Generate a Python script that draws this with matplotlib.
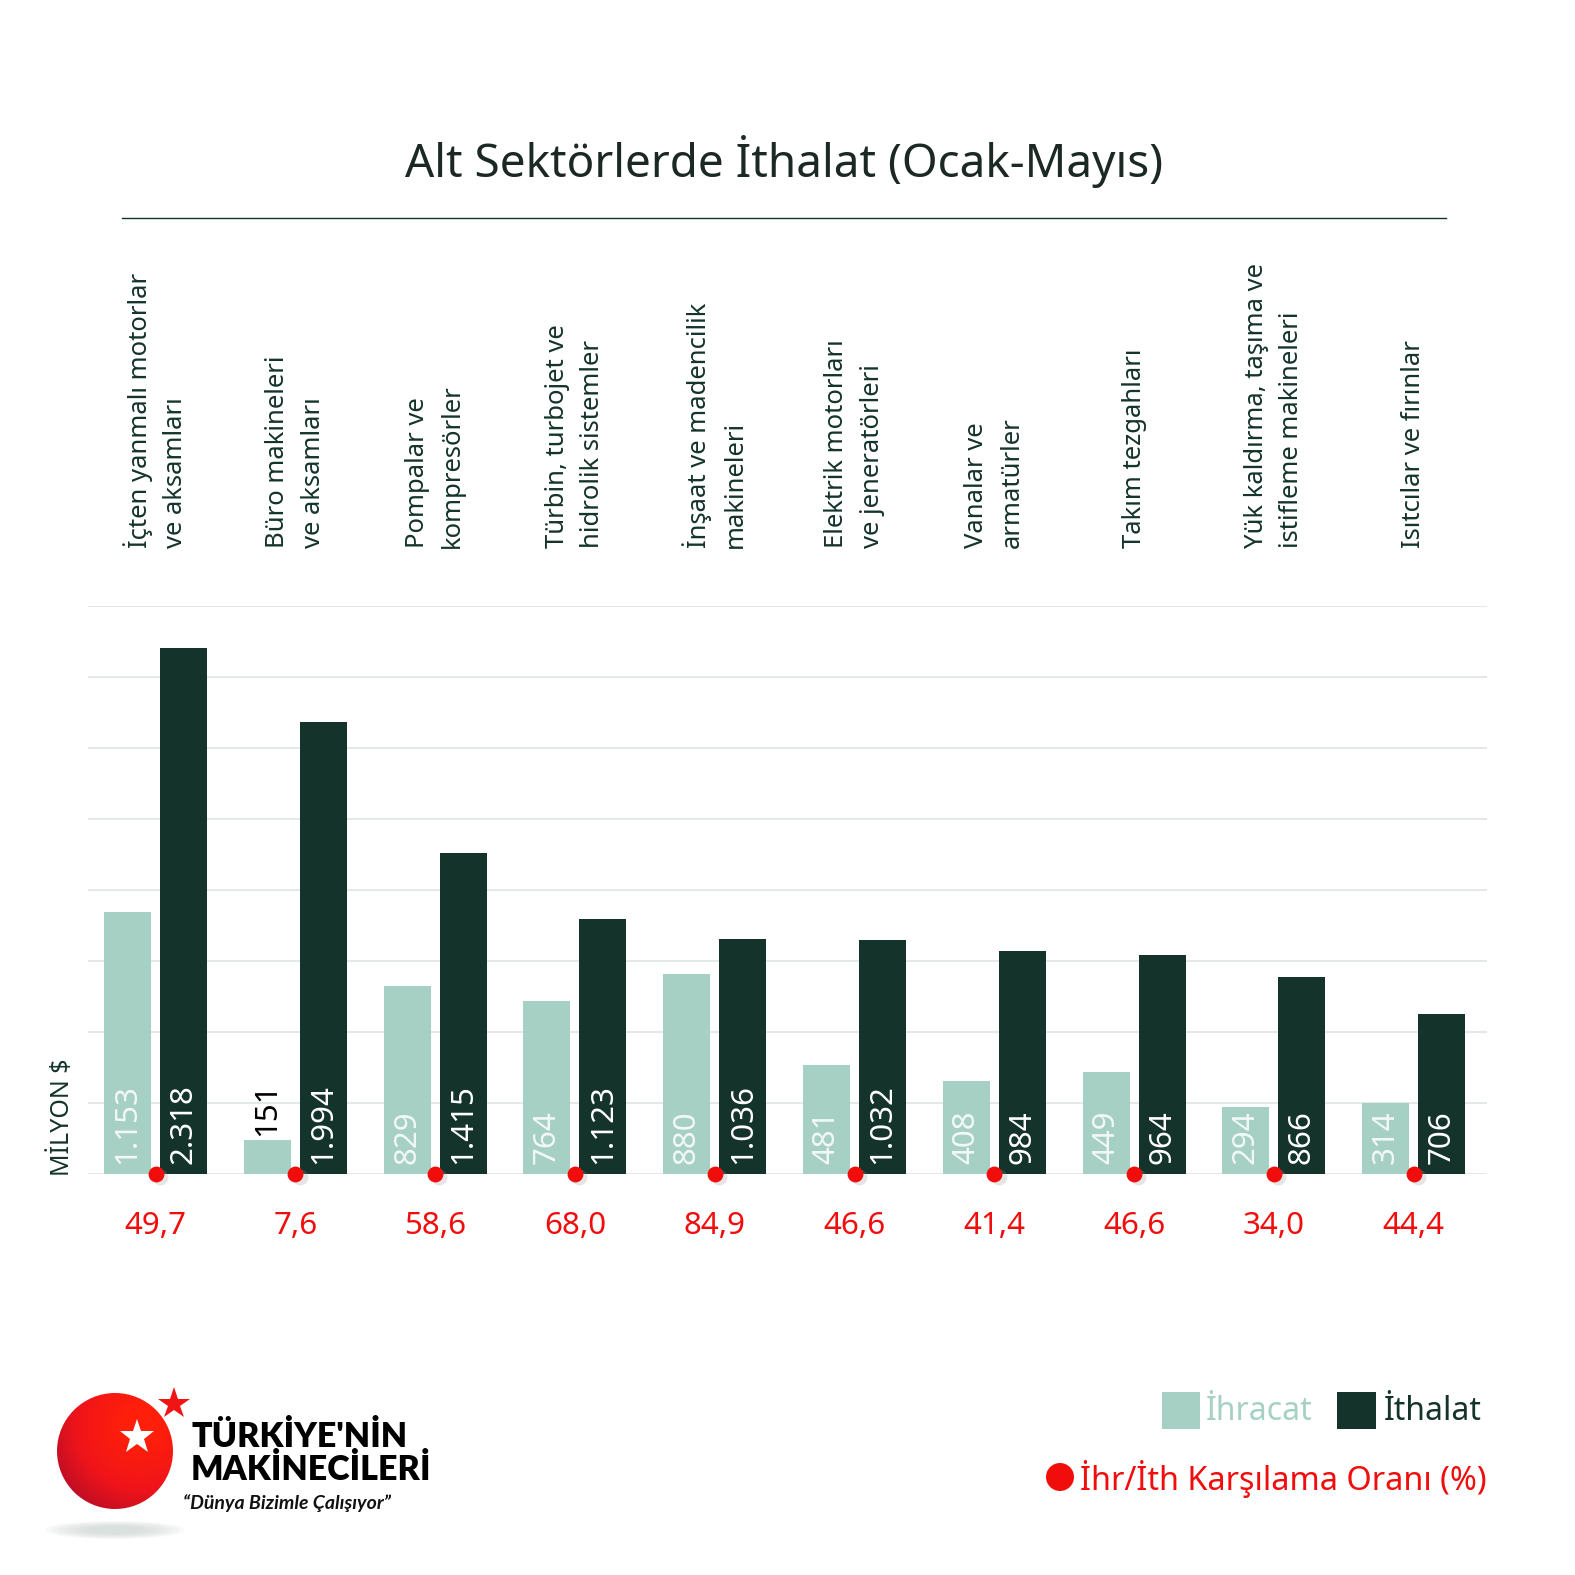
import numpy as np
import matplotlib
matplotlib.use("Agg")
import matplotlib.pyplot as plt
from matplotlib import transforms
from matplotlib.patches import Rectangle, Circle, Ellipse
from matplotlib.colors import LinearSegmentedColormap

plt.rcParams['font.family'] = ['Noto Sans', 'DejaVu Sans']

# veriler (milyon $)
sektorler = [
    "İçten yanmalı motorlar\nve aksamları",
    "Büro makineleri\nve aksamları",
    "Pompalar ve\nkompresörler",
    "Türbin, turbojet ve\nhidrolik sistemler",
    "İnşaat ve madencilik\nmakineleri",
    "Elektrik motorları\nve jeneratörleri",
    "Vanalar ve\narmatürler",
    "Takım tezgahları",
    "Yük kaldırma, taşıma ve\nistifleme makineleri",
    "Isıtcılar ve fırınlar",
]
ihracat = [1153, 151, 829, 764, 880, 481, 408, 449, 294, 314]
ithalat = [2318, 1994, 1415, 1123, 1036, 1032, 984, 964, 866, 706]
oran = [49.7, 7.6, 58.6, 68.0, 84.9, 46.6, 41.4, 46.6, 34.0, 44.4]

baslik = "Alt Sektörlerde İthalat (Ocak-Mayıs)"

ACIK = "#a7d0c4"
KOYU = "#14332b"
KIRMIZI = "#f20d0d"


def tr_sayi(n):
    return f"{n:,}".replace(",", ".")


def tr_oran(r):
    return f"{r:.1f}".replace(".", ",")


fig = plt.figure(figsize=(15.75, 15.75), dpi=100)
W = 1575.0
ax = fig.add_axes([88 / W, 1 - 1174 / W, 1399 / W, 568 / W])

x = np.arange(len(sektorler))
bw = 0.336
ax.bar(x - 0.2, ihracat, bw, color=ACIK, zorder=2)
ax.bar(x + 0.2, ithalat, bw, color=KOYU, zorder=2)

ax.set_xlim(-0.483, 9.524)
ax.set_ylim(0, 2503)
ax.set_yticks(np.linspace(0, 2503, 9))
ax.grid(axis="y", color="#dfe5e3", lw=1.2, zorder=0)
ax.tick_params(length=0, labelleft=False, labelbottom=False)
for s in ax.spines.values():
    s.set_visible(False)

# bar etiketleri
for i in x:
    v = ihracat[i]
    if v > 250:
        ax.text(i - 0.2, 44, tr_sayi(v), rotation=90, ha="center", va="bottom",
                fontsize=22.5, color="#f2f8f6", zorder=4)
    else:
        ax.text(i - 0.2, v + 18, tr_sayi(v), rotation=90, ha="center", va="bottom",
                fontsize=22.5, color="black", zorder=4)
    ax.text(i + 0.2, 44, tr_sayi(ithalat[i]), rotation=90, ha="center", va="bottom",
            fontsize=22.5, color="white", zorder=4)

# karşılama oranı noktaları
ax.scatter(x + 0.03, np.full(len(x), -12), s=130, color="#999999", alpha=0.25,
           lw=0, zorder=4, clip_on=False)
ax.scatter(x, np.zeros(len(x)), s=130, color=KIRMIZI, lw=0, zorder=5, clip_on=False)

trans = transforms.blended_transform_factory(ax.transData, fig.transFigure)
for i in x:
    ax.text(i, 1 - 1226 / W, tr_oran(oran[i]), ha="center", va="center",
            fontsize=22.5, color=KIRMIZI, transform=trans)
    ax.text(i, 1 - 548 / W, sektorler[i], rotation=90, ha="center", va="bottom",
            multialignment="left", linespacing=1.55, fontsize=18.5, color=KOYU,
            transform=trans)

# üst katman: başlık, lejant, logo
ov = fig.add_axes([0, 0, 1, 1])
ov.set_xlim(0, W)
ov.set_ylim(W, 0)
ov.axis("off")

ov.text(784, 162, baslik, ha="center", va="center", fontsize=33, color="#1b2823")
ov.plot([122, 1446], [218, 218], color=KOYU, lw=1)

ov.text(62, 1176, "MİLYON $", rotation=90, ha="center", va="bottom",
        fontsize=18, color=KOYU)

ov.add_patch(Rectangle((1162, 1392), 38, 37, color=ACIK, lw=0))
ov.text(1206, 1412, "İhracat", va="center", ha="left", fontsize=23,
        color=ACIK)
ov.add_patch(Rectangle((1337, 1392), 39, 37, color=KOYU, lw=0))
ov.text(1384, 1412, "İthalat", va="center", ha="left", fontsize=23,
        color=KOYU)
ov.add_patch(Circle((1060, 1477), 14, color=KIRMIZI, lw=0))
ov.text(1080, 1479, "İhr/İth Karşılama Oranı (%)", va="center", ha="left",
        fontsize=23.3, color=KIRMIZI)

# logo
for k in range(8):
    ov.add_patch(Ellipse((115, 1530), 140 - k * 12, 18 - k * 1.5,
                         color="#c9d3cf", alpha=0.12, lw=0))
yy, xx = np.mgrid[0:1:200j, 0:1:200j]
d = np.sqrt((xx - 0.72) ** 2 + (yy - 0.28) ** 2)
cmap = LinearSegmentedColormap.from_list("kure", ["#ff1f0a", "#f0141a", "#a80b2a"])
im = ov.imshow(d, cmap=cmap, extent=(57, 173, 1509, 1393), vmin=0.15, vmax=0.95,
               interpolation="bilinear")
im.set_clip_path(Circle((115, 1451), 58, transform=ov.transData))
ov.set_aspect("auto")
ov.set_xlim(0, W)
ov.set_ylim(W, 0)
ov.plot(137, 1437, marker="*", ms=26, color="white", mew=0)
ov.plot(174, 1404, marker="*", ms=24, color="#f01414", mew=0)

ov.text(191, 1437, "TÜRKİYE'NİN", fontsize=24.5, fontweight="heavy",
        family=["Lato", "DejaVu Sans"], va="center", color="black")
ov.text(191, 1470, "MAKİNECİLERİ", fontsize=24.5, fontweight="heavy",
        family=["Lato", "DejaVu Sans"], va="center", color="black")
ov.text(183, 1503, "“Dünya Bizimle Çalışıyor”", fontsize=14, fontweight="bold",
        style="italic", family=["Lato", "DejaVu Sans"],
        va="center", color="#111111")

fig.savefig("out.png", dpi=100, facecolor="white")
